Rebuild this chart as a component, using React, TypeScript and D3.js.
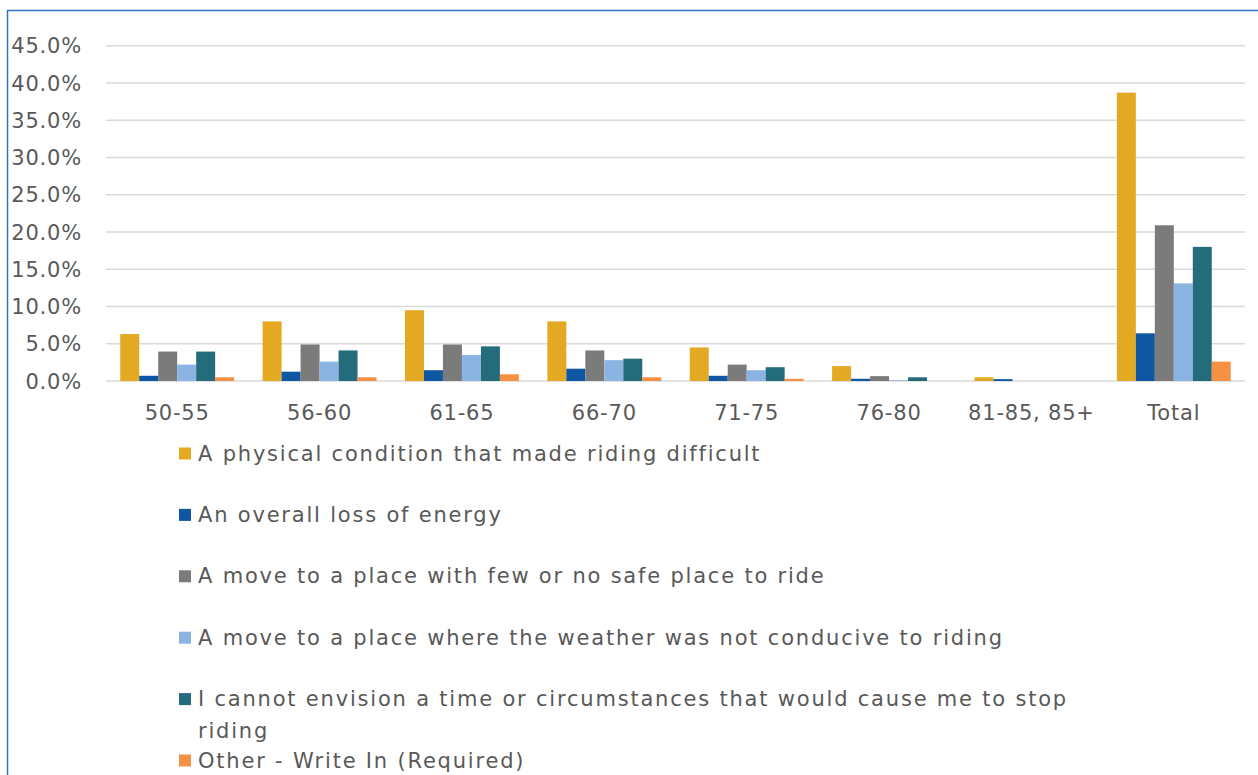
import React, { useEffect, useRef } from "react";
import * as d3 from "d3";

const categories = ["50-55", "56-60", "61-65", "66-70", "71-75", "76-80", "81-85, 85+", "Total"];
const seriesNames = [
  "A physical condition that made riding difficult",
  "An overall loss of energy",
  "A move to a place with few or no safe place to ride",
  "A move to a place where the weather was not conducive to riding",
  "I cannot envision a time or circumstances that would cause me to stop riding",
  "Other - Write In (Required)",
];
const physical = [6.3, 8.0, 9.5, 8.0, 4.5, 2.0, 0.5, 38.7];
const energy = [0.7, 1.25, 1.45, 1.65, 0.7, 0.3, 0.25, 6.4];
const safePlace = [3.95, 4.9, 4.9, 4.1, 2.2, 0.65, 0, 20.9];
const weather = [2.2, 2.6, 3.5, 2.8, 1.45, 0.1, 0, 13.1];
const cannotEnvision = [3.95, 4.1, 4.65, 3.0, 1.85, 0.5, 0, 18.0];
const other = [0.5, 0.5, 0.9, 0.5, 0.3, 0, 0, 2.6];
const seriesValues = [physical, energy, safePlace, weather, cannotEnvision, other];
const colors = ["#E3A922", "#0F56A3", "#7B7B7B", "#8CB4E2", "#246C7B", "#F49143"];
const yTicks = [0, 5, 10, 15, 20, 25, 30, 35, 40, 45];

const FONT = "'DejaVu Sans', sans-serif";
const TEXT = "#595959";

export default function App() {
  const ref = useRef<SVGSVGElement>(null);

  useEffect(() => {
    const svg = d3.select(ref.current);
    svg.selectAll("*").remove();

    const left = 106, right = 1245, top = 45.7, bottom = 381;
    const x0 = d3.scaleBand<string>().domain(categories).range([left, right]).paddingInner(0.2).paddingOuter(0.1);
    const x1 = d3.scaleBand<number>().domain(d3.range(seriesNames.length)).range([0, x0.bandwidth()]).padding(0);
    const y = d3.scaleLinear().domain([0, 45]).range([bottom, top]);

    // frame
    svg.append("rect").attr("x", 7.5).attr("y", 10.5).attr("width", 1300).attr("height", 900)
      .attr("fill", "white").attr("stroke", "#2F74C4").attr("stroke-width", 1.5);

    // gridlines
    svg.append("g").selectAll("line").data(yTicks).join("line")
      .attr("x1", left).attr("x2", right)
      .attr("y1", (d) => y(d)).attr("y2", (d) => y(d))
      .attr("stroke", "#D9D9D9").attr("stroke-width", 1.5);

    // y labels
    svg.append("g").selectAll("text").data(yTicks).join("text")
      .attr("x", 82).attr("y", (d) => y(d)).attr("dy", "0.36em")
      .attr("text-anchor", "end")
      .attr("font-family", FONT).attr("font-size", 21).attr("letter-spacing", 0.8)
      .attr("fill", TEXT)
      .text((d) => d3.format(".1f")(d) + "%");

    // bars
    const groups = svg.append("g").selectAll("g").data(categories).join("g")
      .attr("transform", (c) => `translate(${x0(c)},0)`);
    groups.selectAll("rect").data((c, ci) => seriesValues.map((vals, si) => ({ si, v: vals[ci] })))
      .join("rect")
      .attr("x", (d) => x1(d.si)!)
      .attr("width", x1.bandwidth())
      .attr("y", (d) => y(d.v))
      .attr("height", (d) => y(0) - y(d.v))
      .attr("fill", (d) => colors[d.si]);

    // x labels
    svg.append("g").selectAll("text").data(categories).join("text")
      .attr("x", (c) => x0(c)! + x0.bandwidth() / 2).attr("y", 412).attr("dy", "0.36em")
      .attr("text-anchor", "middle")
      .attr("font-family", FONT).attr("font-size", 21).attr("letter-spacing", 0.8)
      .attr("fill", TEXT)
      .text((c) => c);

    // legend
    const ly = d3.scaleLinear().domain([0, 5]).range([453, 760]);
    const maxW = 900;
    const items = svg.append("g").selectAll("g").data(seriesNames).join("g")
      .attr("transform", (d, i) => `translate(179,${ly(i)})`);
    items.append("rect").attr("x", 0).attr("y", -5.5).attr("width", 12).attr("height", 12)
      .attr("fill", (d, i) => colors[i]);
    items.each(function (name) {
      const g = d3.select(this);
      const t = g.append("text")
        .attr("x", 19).attr("y", 0)
        .attr("font-family", FONT).attr("font-size", 21).attr("letter-spacing", 1.8)
        .attr("fill", TEXT);
      const words = name.split(" ");
      let line: string[] = [];
      let tspan = t.append("tspan").attr("x", 19).attr("dy", "0.36em");
      for (const w of words) {
        line.push(w);
        tspan.text(line.join(" "));
        if ((tspan.node() as SVGTSpanElement).getComputedTextLength() > maxW && line.length > 1) {
          line.pop();
          tspan.text(line.join(" "));
          line = [w];
          tspan = t.append("tspan").attr("x", 19).attr("dy", 32).text(w);
        }
      }
    });
  }, []);

  return (
    <svg ref={ref} width={1258} height={775}
      style={{ position: "absolute", left: 0, top: 0, display: "block" }} />
  );
}
